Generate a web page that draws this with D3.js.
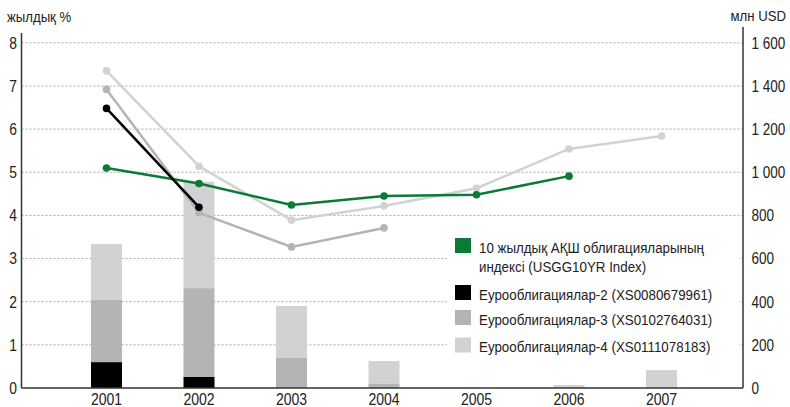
<!DOCTYPE html>
<html>
<head>
<meta charset="utf-8">
<script src="https://cdn.jsdelivr.net/npm/d3@7/dist/d3.min.js"></script>
<style>
  html, body { margin: 0; padding: 0; background: #fff; }
  svg text { font-family: "Liberation Sans", Arial, sans-serif; fill: #222; }
</style>
</head>
<body>
<svg id="chart" width="790" height="407"></svg>
<script>
// Years on the horizontal axis
const years = ["2001", "2002", "2003", "2004", "2005", "2006", "2007"];

// Yield lines, % per year (null = no value)
const usTreasury10y = [5.10, 4.74, 4.24, 4.45, 4.48, 4.91, null];
const euro2Yield    = [6.48, 4.19, null, null, null, null, null];
const euro3Yield    = [6.92, 4.06, 3.27, 3.71, null, null, null];
const euro4Yield    = [7.35, 5.14, 3.89, 4.22, 4.63, 5.54, 5.84];

// Outstanding volumes, млн USD (stacked bars)
const euro2Volume = [120, 51, 0, 0, 0, 0, 0];
const euro3Volume = [288, 412, 139, 19, 0, 0, 0];
const euro4Volume = [259, 493, 241, 106, 0, 14, 83];

// Axis ticks
const leftTicks  = [0, 1, 2, 3, 4, 5, 6, 7, 8];
const rightTicks = [0, 200, 400, 600, 800, 1000, 1200, 1400, 1600];

const legendLabels = [
  ["10 жылдық АҚШ облигацияларының", "индексі (USGG10YR Index)"],
  ["Еурооблигациялар-2 (XS0080679961)"],
  ["Еурооблигациялар-3 (XS0102764031)"],
  ["Еурооблигациялар-4 (XS0111078183)"]
];

const colors = { green: "#0a7a34", black: "#000000", mid: "#b3b4b3", light: "#d1d2d4" };

const svg = d3.select("#chart");
const plotLeft = 21.5, plotRight = 743, plotBottom = 388, plotTop8 = 42.8;

// Condensed lettering: text drawn with a horizontal squeeze
function label(parent, x, y, txt, size, sx, anchor) {
  return parent.append("text")
    .attr("transform", `translate(${x},${y}) scale(${sx},1)`)
    .attr("font-size", size)
    .attr("text-anchor", anchor || "start")
    .text(txt);
}

const x = d3.scalePoint().domain(years).range([106.5, 661.5]);
const yL = d3.scaleLinear().domain([0, 8]).range([plotBottom, plotTop8]);
const yR = d3.scaleLinear().domain([0, 1600]).range([plotBottom, plotTop8]);

// Gridlines (dotted)
svg.append("g").selectAll("line")
  .data(leftTicks.filter(d => d > 0))
  .join("line")
  .attr("x1", plotLeft).attr("x2", plotRight)
  .attr("y1", d => yL(d)).attr("y2", d => yL(d))
  .attr("stroke", "#a8a8a8").attr("stroke-width", 1)
  .attr("stroke-dasharray", "2,2");

// Stacked bars
const stackData = years.map((yr, i) => ({ year: yr, e2: euro2Volume[i], e3: euro3Volume[i], e4: euro4Volume[i] }));
const stack = d3.stack().keys(["e2", "e3", "e4"])(stackData);
const barColors = { e2: colors.black, e3: colors.mid, e4: colors.light };
const barW = 31;
svg.append("g").selectAll("g")
  .data(stack)
  .join("g")
  .attr("fill", s => barColors[s.key])
  .selectAll("rect")
  .data(s => s.filter(d => d[1] - d[0] > 0))
  .join("rect")
  .attr("x", d => x(d.data.year) - barW / 2)
  .attr("width", barW)
  .attr("y", d => yR(d[1]))
  .attr("height", d => yR(d[0]) - yR(d[1]));

// Lines with markers
const line = d3.line()
  .defined(d => d.v != null)
  .x(d => x(d.year))
  .y(d => yL(d.v));

const series = [
  { vals: euro4Yield, color: colors.light },
  { vals: euro3Yield, color: colors.mid },
  { vals: usTreasury10y, color: colors.green },
  { vals: euro2Yield, color: colors.black }
];
series.forEach(s => {
  const pts = years.map((yr, i) => ({ year: yr, v: s.vals[i] }));
  const g = svg.append("g");
  g.append("path")
    .datum(pts)
    .attr("d", line)
    .attr("fill", "none")
    .attr("stroke", s.color)
    .attr("stroke-width", 2.5);
  g.selectAll("circle")
    .data(pts.filter(d => d.v != null))
    .join("circle")
    .attr("cx", d => x(d.year))
    .attr("cy", d => yL(d.v))
    .attr("r", 3.8)
    .attr("fill", s.color);
});

// Legend with white background
const lg = svg.append("g");
lg.append("rect").attr("x", 447).attr("y", 230).attr("width", 292).attr("height", 132).attr("fill", "#fff");
const legendItems = [
  { color: colors.green, y: 238 },
  { color: colors.black, y: 285 },
  { color: colors.mid, y: 310 },
  { color: colors.light, y: 337.5 }
];
legendItems.forEach((it, i) => {
  lg.append("rect").attr("x", 455).attr("y", it.y).attr("width", 16).attr("height", 15).attr("fill", it.color);
  legendLabels[i].forEach((t, j) => {
    label(lg, 479, it.y + 14.5 + j * 19.5, t, 15, 0.89);
  });
});

// Axes
const axisColor = "#333";
svg.append("line").attr("x1", plotLeft).attr("x2", plotLeft).attr("y1", 33).attr("y2", plotBottom)
  .attr("stroke", axisColor).attr("stroke-width", 1.5);
svg.append("line").attr("x1", plotRight).attr("x2", plotRight).attr("y1", 27).attr("y2", plotBottom)
  .attr("stroke", axisColor).attr("stroke-width", 1.5);
svg.append("line").attr("x1", plotLeft).attr("x2", plotRight).attr("y1", plotBottom).attr("y2", plotBottom)
  .attr("stroke", axisColor).attr("stroke-width", 1.5);

const gl = svg.append("g");
leftTicks.forEach(d => label(gl, 17, yL(d) + 5.8, d, 16.5, 0.84, "end"));

const fmt = d3.formatLocale({ decimal: ",", thousands: " ", grouping: [3], currency: ["", ""] }).format(",d");
const gr = svg.append("g");
rightTicks.forEach(d => label(gr, 751.5, yR(d) + 5.8, fmt(d), 16.5, 0.82));

const gx = svg.append("g");
years.forEach(d => label(gx, x(d), 404.5, d, 16.5, 0.85, "middle"));

label(svg, 7, 22, "жылдық %", 15.5, 0.85);
label(svg, 786, 21, "млн USD", 15.5, 0.85, "end");
</script>
</body>
</html>
